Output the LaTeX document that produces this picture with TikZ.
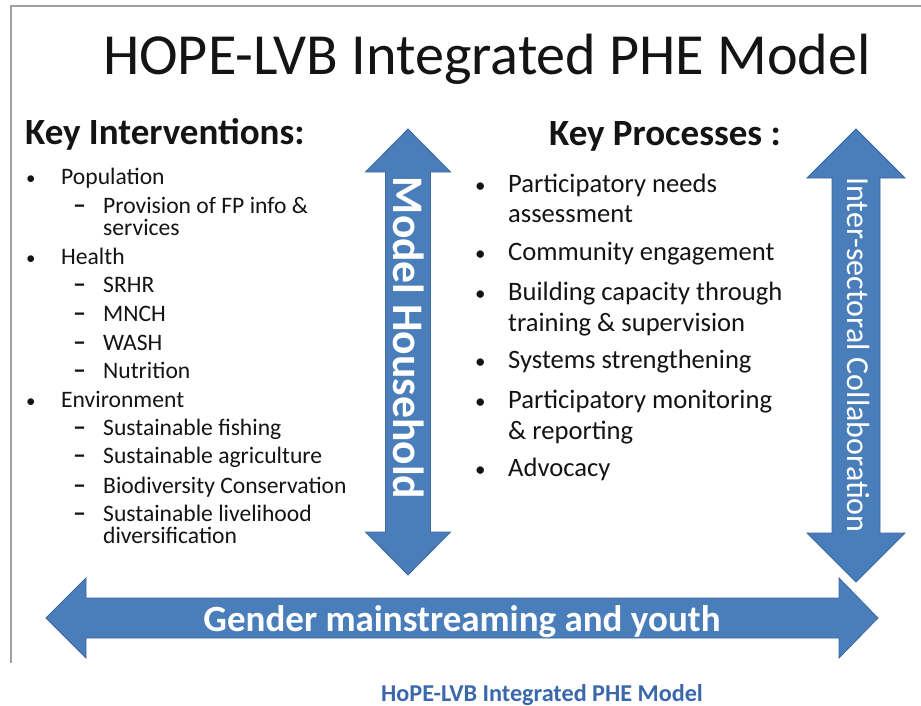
\documentclass[tikz,border=0pt]{standalone}
\usepackage{fontspec}
\setmainfont{Carlito}
\definecolor{arrowfill}{RGB}{74,126,187}
\definecolor{arrowline}{RGB}{60,104,160}
\definecolor{captionblue}{RGB}{58,104,170}
\definecolor{framegray}{RGB}{160,160,160}
\definecolor{textblack}{RGB}{20,20,20}
\begin{document}
\begin{tikzpicture}[x=1pt,y=-1pt,
  bigarrow/.style={fill=arrowfill,draw=arrowline,line width=0.8pt,line join=miter},
  lefttext/.style={anchor=base west,inner sep=0pt,text=textblack,font=\fontsize{23.6}{23.6}\selectfont},
  righttext/.style={anchor=base west,inner sep=0pt,text=textblack,font=\fontsize{26.6}{26.6}\selectfont},
  bulletmark/.style={anchor=base west,inner sep=0pt,text=textblack,font=\fontsize{19}{19}\selectfont},
  dashmark/.style={anchor=base west,inner sep=0pt,text=textblack,font=\fontsize{26}{26}\selectfont\bfseries},
  heading/.style={anchor=base west,inner sep=0pt,text=textblack,font=\fontsize{37}{37}\selectfont\bfseries},
  arrowtext/.style={inner sep=0pt,text=white}
]
\useasboundingbox (0,0) rectangle (921,706);
\fill[white] (0,0) rectangle (921,706);
% slide frame
\draw[framegray,line width=1.6pt] (11,663) -- (11,6) -- (921,6);

% title
\node[anchor=base,inner sep=0pt,text=textblack,font=\fontsize{58.2}{58.2}\selectfont] (title) at (487,75) {HOPE-LVB Integrated PHE Model};

% arrows
\draw[bigarrow] (408,129) -- (450.5,172) -- (430.5,172) -- (430.5,532) -- (450.5,532) -- (408,575)
  -- (365.5,532) -- (385.5,532) -- (385.5,172) -- (365.5,172) -- cycle;
\draw[bigarrow] (856,129) -- (905,178) -- (880,178) -- (880,533) -- (905,533) -- (856,582)
  -- (807,533) -- (832,533) -- (832,178) -- (807,178) -- cycle;
\draw[bigarrow] (46,618) -- (86,578) -- (86,598) -- (839,598) -- (839,578) -- (878,618)
  -- (839,658) -- (839,638) -- (86,638) -- (86,658) -- cycle;

\node[arrowtext,rotate=-90,anchor=base,font=\fontsize{43.6}{43.6}\selectfont\bfseries] (household) at (393,338) {Model Household};
\node[arrowtext,rotate=-90,anchor=base,font=\fontsize{32}{32}\selectfont] (intersect) at (847,355) {Inter-sectoral Collaboration};
\node[arrowtext,anchor=base,font=\fontsize{37}{37}\selectfont\bfseries] (gender) at (462,631) {Gender mainstreaming and youth};

% left column
\node[heading] (kint) at (25,145) {Key Interventions:};
\foreach \y/\t [count=\i] in {184/Population,264/Health,407/Environment}{
  \node[bulletmark] (lb\i) at (26,\y) {•};
  \node[lefttext] (lt\i) at (61,\y) {\t};
}
\foreach \y/\t [count=\i] in {213/Provision of FP info \&,292/SRHR,321/MNCH,350/WASH,378/Nutrition,435/Sustainable fishing,463/Sustainable agriculture,493/Biodiversity Conservation,521/Sustainable livelihood}{
  \node[dashmark] (ld\i) at (73,\y) {–};
  \node[lefttext] (ls\i) at (103,\y) {\t};
}
\node[lefttext] (ls1b) at (103,235) {services};
\node[lefttext] (ls9b) at (103,543) {diversification};

% right column
\node[heading] (kproc) at (549,146) {Key Processes :};
\foreach \y/\t [count=\i] in {192/Participatory needs,260/Community engagement,300/Building capacity through,368/Systems strengthening,408/Participatory monitoring,476/Advocacy}{
  \node[bulletmark,font=\fontsize{21}{21}\selectfont] (rb\i) at (475,\y) {•};
  \node[righttext] (rt\i) at (508,\y) {\t};
}
\node[righttext] (rt1b) at (508,222) {assessment};
\node[righttext] (rt3b) at (508,331) {training \& supervision};
\node[righttext] (rt5b) at (508,439) {\& reporting};

% caption
\node[anchor=base,inner sep=0pt,text=captionblue,font=\fontsize{24.2}{24.2}\selectfont\bfseries] (caption) at (542,701) {HoPE-LVB Integrated PHE Model};
\end{tikzpicture}
\end{document}
